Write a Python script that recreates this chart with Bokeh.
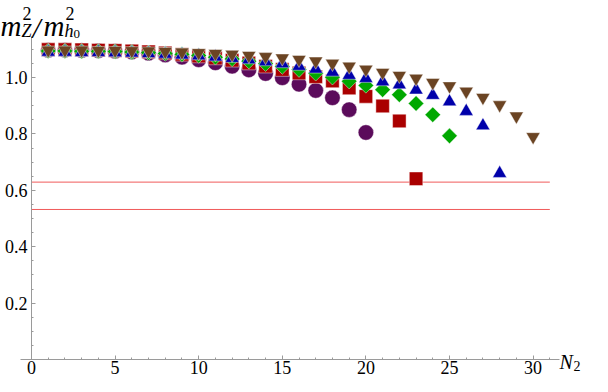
import numpy as np
from bokeh.plotting import figure
from bokeh.models import FixedTicker, Label, PrintfTickFormatter
from bokeh.embed import file_html
from bokeh.resources import INLINE

# ---- data ----
n2 = [1, 2, 3, 4, 5, 6, 7, 8, 9, 10, 11, 12, 13, 14, 15,
      16, 17, 18, 19, 20, 21, 22, 23, 24, 25, 26, 27, 28, 29, 30]

purple_vals = [1.097, 1.097, 1.096, 1.095, 1.093, 1.090, 1.086, 1.080, 1.072, 1.063,
               1.052, 1.040, 1.027, 1.014, 0.999, 0.976, 0.954, 0.928, 0.886, 0.805]
red_vals = [1.099, 1.099, 1.098, 1.097, 1.096, 1.094, 1.091, 1.087, 1.082, 1.076,
            1.069, 1.061, 1.051, 1.040, 1.028, 1.016, 1.003, 0.988, 0.963, 0.933,
            0.899, 0.846, 0.641]
green_vals = [1.094, 1.094, 1.093, 1.093, 1.092, 1.090, 1.088, 1.085, 1.082, 1.078,
              1.072, 1.066, 1.058, 1.049, 1.039, 1.028, 1.015, 1.001, 0.987, 0.972,
              0.957, 0.939, 0.908, 0.868, 0.793]
blue_vals = [1.090, 1.090, 1.089, 1.089, 1.088, 1.087, 1.085, 1.083, 1.080, 1.077,
             1.073, 1.068, 1.063, 1.056, 1.049, 1.040, 1.030, 1.019, 1.008, 0.997,
             0.985, 0.974, 0.956, 0.937, 0.914, 0.880, 0.829, 0.660]
brown_vals = [1.097, 1.097, 1.097, 1.096, 1.096, 1.095, 1.094, 1.092, 1.090, 1.088,
              1.085, 1.082, 1.078, 1.074, 1.069, 1.064, 1.058, 1.050, 1.040, 1.029,
              1.018, 1.007, 0.997, 0.982, 0.970, 0.951, 0.929, 0.903, 0.863, 0.790]

ref_levels = [0.629, 0.532]
ref_span = [0, 31]

x_ticks = [0, 5, 10, 15, 20, 25, 30]
x_minor = [1, 2, 3, 4, 6, 7, 8, 9, 11, 12, 13, 14, 16, 17, 18, 19, 21, 22, 23, 24,
           26, 27, 28, 29, 31]
y_ticks = [0.2, 0.4, 0.6, 0.8, 1.0]
y_minor = [0.05, 0.1, 0.15, 0.25, 0.3, 0.35, 0.45, 0.5, 0.55, 0.65, 0.7, 0.75,
           0.85, 0.9, 0.95, 1.05, 1.1]

# ---- layout: frame fills the canvas, axes sit at the origin ----
W, H = 592, 376
X0_PX, Y0_PX = 31, 359          # pixel position of the origin inside the canvas
SX, SY = 16.72, 282.0           # pixels per data unit
x_lo, x_hi = -X0_PX / SX, (W - X0_PX) / SX
y_lo, y_hi = -(H - Y0_PX) / SY, Y0_PX / SY

p = figure(width=W, height=H, x_range=(x_lo, x_hi), y_range=(y_lo, y_hi),
           output_backend="svg", toolbar_location=None,
           min_border=0)
p.outline_line_color = None
p.grid.visible = False
p.title.visible = False
p.background_fill_color = "white"
p.border_fill_color = "white"

for ax in (p.xaxis[0], p.yaxis[0]):
    ax.fixed_location = 0
    ax.axis_line_color = "#9a9a9a"
    ax.major_tick_line_color = "#9a9a9a"
    ax.minor_tick_line_color = "#9a9a9a"
    ax.major_tick_in = 4
    ax.major_tick_out = 0
    ax.minor_tick_in = 2
    ax.minor_tick_out = 0
    ax.major_label_text_font = "Liberation Serif"
    ax.major_label_text_font_size = "18px"
    ax.major_label_text_color = "black"

p.xaxis.ticker = FixedTicker(ticks=x_ticks, minor_ticks=x_minor)
p.yaxis.ticker = FixedTicker(ticks=y_ticks, minor_ticks=y_minor)
p.yaxis.formatter = PrintfTickFormatter(format="%.1f")
p.xaxis.bounds = (-0.63, 31.6)
p.yaxis.bounds = (0, 1.147)
p.xaxis.major_label_standoff = 1
p.yaxis.major_label_standoff = 4

# reference horizontal lines
for lvl in ref_levels:
    p.line(ref_span, [lvl, lvl], line_color="#f05a5a", line_width=1)

edge = dict(line_color="white", line_alpha=0.55, line_width=0.8)
p.scatter(n2[:len(purple_vals)], purple_vals, marker="circle", size=15.5,
          fill_color="#5b0b5b", **edge)
p.scatter(n2[:len(red_vals)], red_vals, marker="square", size=13.5,
          fill_color="#aa0000", **edge)
p.scatter(n2[:len(green_vals)], green_vals, marker="square", size=11,
          angle=np.pi / 4, fill_color="#00a800", **edge)
p.scatter(n2[:len(blue_vals)], blue_vals, marker="triangle", size=14,
          fill_color="#0000aa", **edge)
p.scatter(n2[:len(brown_vals)], brown_vals, marker="inverted_triangle", size=14,
          fill_color="#6b4423", **edge)

# ---- axis titles as text annotations (canvas pixel positions) ----
def dx(px):
    return x_lo + px / SX

def dy(py):
    return y_hi - py / SY

def lab(text, px, py, size, italic=True):
    p.add_layout(Label(x=dx(px), y=dy(py), text=text,
                       text_font="Liberation Serif",
                       text_font_style="italic" if italic else "normal",
                       text_font_size=f"{size}px", text_color="black",
                       text_align="left", text_baseline="alphabetic"))

# m_Z^2 / m_{h_0}^2
lab("m", 0, 25, 29)
lab("2", 22, 13, 18, italic=False)
lab("Z", 21, 30, 18)
lab("/", 32, 27, 29)
lab("m", 43, 25, 29)
lab("2", 65, 13, 18, italic=False)
lab("h", 64, 30, 18)
lab("0", 73, 33, 13, italic=False)

# N_2
lab("N", 559, 361, 20)
lab("2", 573, 365, 14, italic=False)

open("out.html", "w").write(file_html(p, INLINE))
